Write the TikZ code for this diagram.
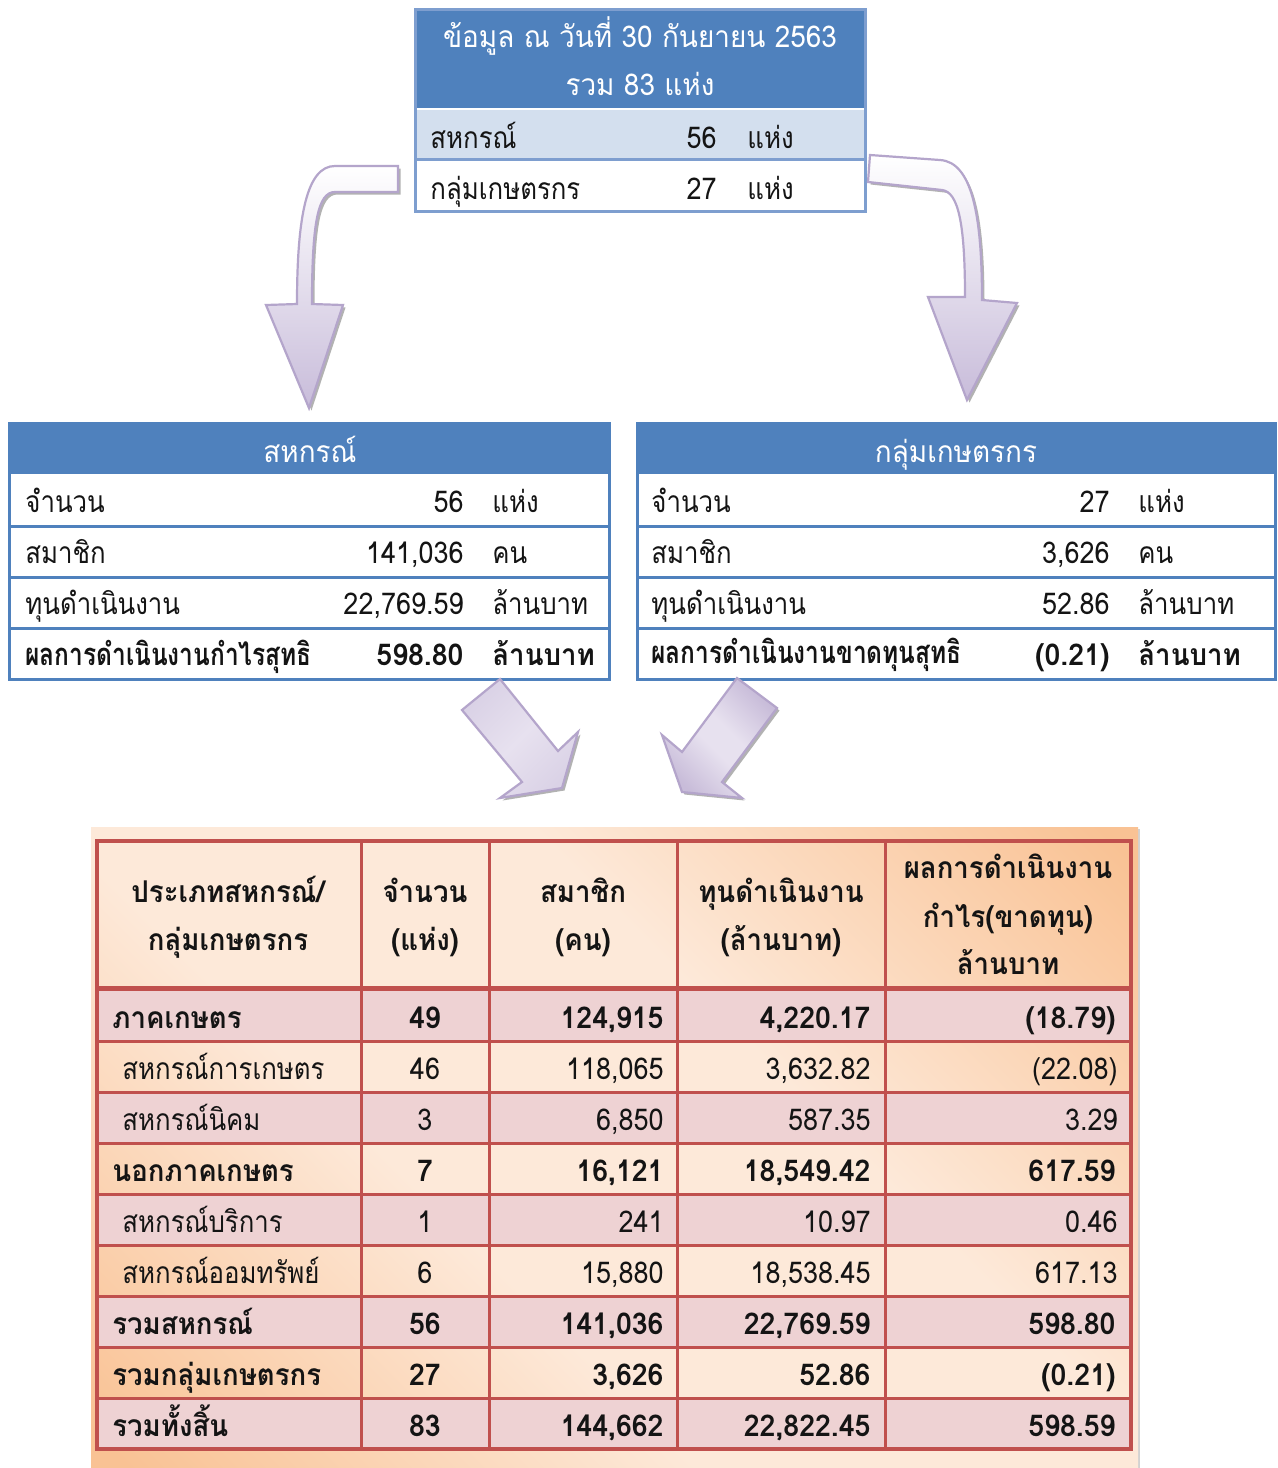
\documentclass[tikz,border=0pt]{standalone}
\usepackage{fontspec}
\setmainfont[Script=Thai,FakeStretch=0.9]{Loma}
\newfontfamily\thn[Script=Thai,FakeStretch=0.86]{Loma}
\newfontfamily\thdb[Script=Thai,FakeStretch=0.95]{Loma}
\newfontfamily\thbc[Script=Thai,FakeStretch=0.79]{Loma}
\newfontfamily\thbt[Script=Thai,FakeStretch=0.92]{Loma}
\newfontfamily\thw[Script=Thai,FakeStretch=0.93]{Loma}
\definecolor{hdrblue}{RGB}{79,129,189}
\definecolor{topborder}{RGB}{126,158,207}
\definecolor{rowblue}{RGB}{211,223,238}
\definecolor{tred}{RGB}{192,80,77}
\definecolor{pinkrow}{RGB}{238,210,211}
\definecolor{peachL}{RGB}{253,233,217}
\definecolor{peachD}{RGB}{249,194,148}
\definecolor{lavS}{RGB}{180,165,203}
\definecolor{lavD}{RGB}{200,188,218}
\definecolor{lavL}{RGB}{231,225,239}
\definecolor{lavM}{RGB}{200,188,217}
\definecolor{lavN}{RGB}{218,210,230}
\definecolor{txt}{RGB}{20,20,20}
\pgfdeclareverticalshading{peachbg}{100bp}{color(0bp)=(peachD); color(16bp)=(peachD); color(40bp)=(peachL); color(60bp)=(peachL); color(84bp)=(peachD); color(100bp)=(peachD)}
\pgfdeclareverticalshading{lavbg}{100bp}{color(0bp)=(lavM); color(25bp)=(lavM); color(45bp)=(lavL); color(55bp)=(lavL); color(75bp)=(lavM); color(100bp)=(lavM)}
\pgfdeclareverticalshading{lavsoft}{100bp}{color(0bp)=(lavN); color(25bp)=(lavN); color(50bp)=(lavL); color(75bp)=(lavN); color(100bp)=(lavN)}
\newcommand\thsz{\fontsize{15}{18}\selectfont}
\def\arrowL{(398,166) -- (335,166) .. controls (307,166) and (297,215) .. (297,304) -- (266,305) -- (309,408) -- (343,305) -- (312,304) .. controls (312,222) and (318,192) .. (335,192) -- (398,192) -- cycle}
\def\arrowR{(870,155) -- (940,160) .. controls (972,162) and (982,215) .. (982,300) -- (1017,303) -- (967,400) -- (928,297) -- (965,297) .. controls (965,222) and (958,192) .. (942,190) -- (868,182) -- cycle}
\def\arrowDL{(462,710) -- (500,679) -- (558,751) -- (578,732) -- (562,788) -- (500,798) -- (522,782) -- cycle}
\def\arrowDR{(737,678) -- (777,708) -- (722,782) -- (742,798) -- (682,792) -- (662,735) -- (682,752) -- cycle}
% bold row: name, baseline y, label, count, members, capital, result
\newcommand\tabrowB[7]{%
  \node[tbl, anchor=base west] (row#1-1) at (112,#2) {#3};
  \node[bb, anchor=base] (row#1-2) at (425,#2) {#4};
  \node[bb, anchor=base east] (row#1-3) at (664,#2) {#5};
  \node[bb, anchor=base east] (row#1-4) at (871,#2) {#6};
  \node[bb, anchor=base east] (row#1-5) at (1116,#2) {#7};
}
% normal row
\newcommand\tabrowN[7]{%
  \node[bl, anchor=base west] (row#1-1) at (122,#2) {#3};
  \node[bt, anchor=base] (row#1-2) at (425,#2) {#4};
  \node[bt, anchor=base east] (row#1-3) at (664,#2) {#5};
  \node[bt, anchor=base east] (row#1-4) at (871,#2) {#6};
  \node[bt, anchor=base east] (row#1-5) at (1118,#2) {#7};
}
\begin{document}
\begin{tikzpicture}[x=0.5pt,y=-0.5pt,
  bt/.style={font=\thsz, text=txt, inner sep=0pt},
  bl/.style={font=\thsz\thn, text=txt, inner sep=0pt},
  bb/.style={font=\thsz\thdb\bfseries, text=txt, inner sep=0pt},
  blb/.style={font=\fontsize{15.5}{18}\selectfont\thbc\bfseries, text=txt, inner sep=0pt},
  tbl/.style={font=\thsz\thbt\bfseries, text=txt, inner sep=0pt},
  wt/.style={font=\thsz\thw, text=white, inner sep=0pt},
  shad/.style={fill=black!55, opacity=0.55, shift={(2.5,2.5)}},
  arrline/.style={draw=lavS, line width=1.1pt, line join=miter}]
\useasboundingbox (0,0) rectangle (1278,1468);
\fill[white] (0,0) rectangle (1278,1468);

% ---------- top box ----------
\fill[hdrblue] (416,10) rectangle (864,108);
\fill[rowblue] (416,110) rectangle (864,158);
\draw[topborder, line width=1.5pt] (415,159) -- (865,159);
\draw[topborder, line width=1.5pt] (415,9) rectangle (865,211);
\node[wt, anchor=base] (t1) at (640,47) {ข้อมูล ณ วันที่ 30 กันยายน 2563};
\node[wt, anchor=base] (t2) at (640,95) {รวม 83 แห่ง};
\node[bl, anchor=base west] (r1a) at (430,148) {สหกรณ์};
\node[bt, anchor=base east] (r1b) at (717,148) {56};
\node[bl, anchor=base west] (r1c) at (747,148) {แห่ง};
\node[bl, anchor=base west] (r2a) at (430,199) {กลุ่มเกษตรกร};
\node[bt, anchor=base east] (r2b) at (717,199) {27};
\node[bl, anchor=base west] (r2c) at (747,199) {แห่ง};

% ---------- curved arrows ----------
\fill[shad] \arrowL;
\shade[top color=white, bottom color=lavD, arrline] \arrowL;
\fill[shad] \arrowR;
\shade[top color=white, bottom color=lavD, arrline] \arrowR;

% ---------- left middle box ----------
\fill[hdrblue] (9,423) rectangle (609,474);
\foreach \y in {526,577,628} \draw[hdrblue, line width=1.5pt] (9,\y) -- (609,\y);
\draw[hdrblue, line width=1.5pt] (9,423) rectangle (609,679);
\node[wt, anchor=base] (lh) at (310,462) {สหกรณ์};
\node[bl, anchor=base west] (l1a) at (25,512) {จำนวน};
\node[bt, anchor=base east] (l1b) at (464,512) {56};
\node[bl, anchor=base west] (l1c) at (492,512) {แห่ง};
\node[bl, anchor=base west] (l2a) at (25,563) {สมาชิก};
\node[bt, anchor=base east] (l2b) at (464,563) {141,036};
\node[bl, anchor=base west] (l2c) at (492,563) {คน};
\node[bl, anchor=base west] (l3a) at (25,614) {ทุนดำเนินงาน};
\node[bt, anchor=base east] (l3b) at (464,614) {22,769.59};
\node[bl, anchor=base west] (l3c) at (492,614) {ล้านบาท};
\node[blb, anchor=base west] (l4a) at (25,665) {ผลการดำเนินงานกำไรสุทธิ};
\node[bb, anchor=base east] (l4b) at (464,665) {598.80};
\node[tbl, anchor=base west] (l4c) at (492,665) {ล้านบาท};

% ---------- right middle box ----------
\fill[hdrblue] (637,423) rectangle (1275,474);
\foreach \y in {526,577,628} \draw[hdrblue, line width=1.5pt] (637,\y) -- (1275,\y);
\draw[hdrblue, line width=1.5pt] (637,423) rectangle (1275,679);
\node[wt, anchor=base] (rh) at (956,462) {กลุ่มเกษตรกร};
\node[bl, anchor=base west] (g1a) at (651,512) {จำนวน};
\node[bt, anchor=base east] (g1b) at (1110,512) {27};
\node[bl, anchor=base west] (g1c) at (1138,512) {แห่ง};
\node[bl, anchor=base west] (g2a) at (651,563) {สมาชิก};
\node[bt, anchor=base east] (g2b) at (1110,563) {3,626};
\node[bl, anchor=base west] (g2c) at (1138,563) {คน};
\node[bl, anchor=base west] (g3a) at (651,614) {ทุนดำเนินงาน};
\node[bt, anchor=base east] (g3b) at (1110,614) {52.86};
\node[bl, anchor=base west] (g3c) at (1138,614) {ล้านบาท};
\node[blb, anchor=base west] (g4a) at (651,663) {ผลการดำเนินงานขาดทุนสุทธิ};
\node[bb, anchor=base east] (g4b) at (1110,665) {(0.21)};
\node[tbl, anchor=base west] (g4c) at (1138,665) {ล้านบาท};

% ---------- diagonal arrows ----------
\fill[shad] \arrowDL;
\shade[shading=lavsoft, shading angle=45, arrline] \arrowDL;
\fill[shad] \arrowDR;
\shade[shading=lavbg, shading angle=-45, arrline] \arrowDR;

% ---------- bottom table ----------
\fill[black!35, opacity=0.5] (93,829) rectangle (1140,1468);
\shade[shading=peachbg, shading angle=-45] (91,827) rectangle (1138,1468);
\foreach \t in {990,1092,1194,1296,1398} \fill[pinkrow] (97,\t) rectangle (1131,\t+51);
\foreach \y in {1041,1092,1143,1194,1245,1296,1347,1398} \draw[tred, line width=1.5pt] (97,\y) -- (1131,\y);
\draw[tred, line width=2.5pt] (97,988) -- (1131,988);
\foreach \x in {361,489,677,885} \draw[tred, line width=1.5pt] (\x,841) -- (\x,1449);
\draw[tred, line width=1.8pt] (97,841) rectangle (1131,1449);

% header
\node[tbl, anchor=base] (h1a) at (228,902) {ประเภทสหกรณ์/};
\node[tbl, anchor=base] (h1b) at (228,950) {กลุ่มเกษตรกร};
\node[tbl, anchor=base] (h2a) at (425,902) {จำนวน};
\node[tbl, anchor=base] (h2b) at (425,950) {(แห่ง)};
\node[tbl, anchor=base] (h3a) at (583,902) {สมาชิก};
\node[tbl, anchor=base] (h3b) at (583,950) {(คน)};
\node[tbl, anchor=base] (h4a) at (781,902) {ทุนดำเนินงาน};
\node[tbl, anchor=base] (h4b) at (781,950) {(ล้านบาท)};
\node[tbl, anchor=base] (h5a) at (1008,878) {ผลการดำเนินงาน};
\node[tbl, anchor=base] (h5b) at (1008,927) {กำไร(ขาดทุน)};
\node[tbl, anchor=base] (h5c) at (1008,974) {ล้านบาท};

% rows
\tabrowB{a}{1028}{ภาคเกษตร}{49}{124,915}{4,220.17}{(18.79)}
\tabrowN{b}{1079}{สหกรณ์การเกษตร}{46}{118,065}{3,632.82}{(22.08)}
\tabrowN{c}{1130}{สหกรณ์นิคม}{3}{6,850}{587.35}{3.29}
\tabrowB{d}{1181}{นอกภาคเกษตร}{7}{16,121}{18,549.42}{617.59}
\tabrowN{e}{1232}{สหกรณ์บริการ}{1}{241}{10.97}{0.46}
\tabrowN{f}{1283}{สหกรณ์ออมทรัพย์}{6}{15,880}{18,538.45}{617.13}
\tabrowB{g}{1334}{รวมสหกรณ์}{56}{141,036}{22,769.59}{598.80}
\tabrowB{h}{1385}{รวมกลุ่มเกษตรกร}{27}{3,626}{52.86}{(0.21)}
\tabrowB{k}{1436}{รวมทั้งสิ้น}{83}{144,662}{22,822.45}{598.59}
\end{tikzpicture}
\end{document}
